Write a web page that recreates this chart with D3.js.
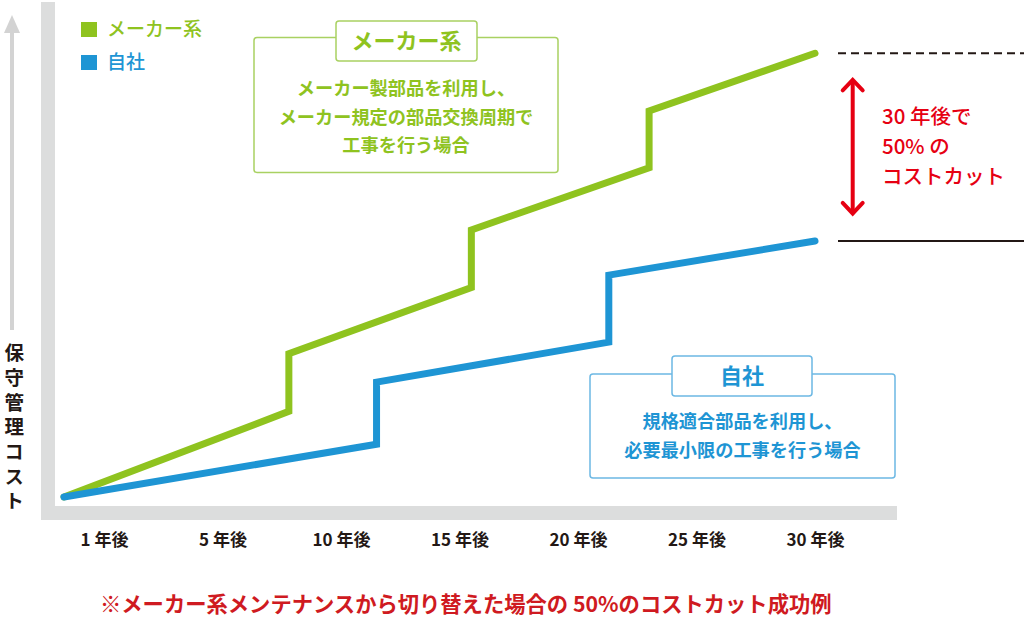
<!DOCTYPE html>
<html><head><meta charset="utf-8">
<script src="https://cdn.jsdelivr.net/npm/d3@7/dist/d3.min.js"></script>
<style>
html,body{margin:0;padding:0;background:#fff;}
svg{display:block;font-family:"Noto Sans CJK JP","Noto Sans",sans-serif;}
</style></head><body>
<svg id="c" width="1024" height="633"></svg>
<script>
// ---- data ----
const xTickYears = [1, 5, 10, 15, 20, 25, 30];
const xTickLabels = ["1 年後", "5 年後", "10 年後", "15 年後", "20 年後", "25 年後", "30 年後"];
const makerYears = [0, 7.8, 7.8, 15.5, 15.5, 23, 23, 30];
const makerCost  = [0, 19.3, 32.3, 47.2, 60.2, 74.2, 87.0, 100];
const selfYears  = [0, 11.5, 11.5, 21.3, 21.3, 30];
const selfCost   = [0, 11.9, 25.9, 34.9, 50.0, 57.7];
const seriesNames = ["メーカー系", "自社"];
const makerNote = ["メーカー製部品を利用し、", "メーカー規定の部品交換周期で", "工事を行う場合"];
const selfNote = ["規格適合部品を利用し、", "必要最小限の工事を行う場合"];
const cutNote = ["30 年後で", "50% の", "コストカット"];
const yAxisTitle = "保守管理コスト";
const footNote = "※メーカー系メンテナンスから切り替えた場合の 50%のコストカット成功例";

const GREEN = "#8fc31f", BLUE = "#1e95d4", RED = "#e60012", GRAY = "#dcdddd", DARK = "#231815";
const svg = d3.select("#c");

// ---- scales ----
const tickPos = xTickYears.map((d, i) => 104 + i * 118.5);
const x = d3.scaleLinear().domain([0, ...xTickYears]).range([64, ...tickPos]);
const y = d3.scaleLinear().domain([0, 100]).range([497, 53.3]);

// ---- frame ----
svg.append("rect").attr("x", 41).attr("y", 2).attr("width", 14).attr("height", 518).attr("fill", GRAY);
svg.append("rect").attr("x", 41).attr("y", 506).attr("width", 856).attr("height", 14).attr("fill", GRAY);

// y axis arrow + vertical title
svg.append("rect").attr("x", 10).attr("y", 30).attr("width", 4).attr("height", 300).attr("fill", "#d3d3d3");
svg.append("path").attr("d", "M12,15 L20,33 L4,33 Z").attr("fill", "#d3d3d3");
svg.append("text").attr("x", 14.2).attr("y", 343)
  .style("writing-mode", "vertical-rl").style("text-orientation", "upright")
  .attr("font-size", 19.5).attr("font-weight", 700).attr("fill", DARK)
  .attr("letter-spacing", 5.2)
  .text(yAxisTitle);

// x axis labels
const ax = svg.append("g").attr("transform", "translate(0,540)")
  .call(d3.axisBottom(x).tickValues(xTickYears).tickSize(0).tickPadding(0)
    .tickFormat((d, i) => xTickLabels[i]));
ax.select(".domain").remove();
ax.selectAll("text").attr("y", 0).attr("dy", "0.36em")
  .attr("font-family", "'Noto Sans CJK JP',sans-serif").attr("font-size", 17)
  .attr("font-weight", 700).attr("fill", DARK);

// ---- lines ----
const line = d3.line().x(d => x(d[0])).y(d => y(d[1]));
const series = [
  {pts: d3.zip(makerYears, makerCost), color: GREEN},
  {pts: d3.zip(selfYears, selfCost), color: BLUE}
];
svg.selectAll("path.series").data(series).join("path").attr("class", "series")
  .attr("d", d => line(d.pts)).attr("fill", "none").attr("stroke", d => d.color)
  .attr("stroke-width", 7).attr("stroke-linecap", "round").attr("stroke-linejoin", "miter");

// ---- reference lines at 30 years ----
const yMakerEnd = y(makerCost[makerCost.length - 1]);
const ySelfEnd = y(selfCost[selfCost.length - 1]);
svg.append("line").attr("x1", 838).attr("x2", 1024).attr("y1", yMakerEnd).attr("y2", yMakerEnd)
  .attr("stroke", DARK).attr("stroke-width", 2).attr("stroke-dasharray", "8,5");
svg.append("line").attr("x1", 838).attr("x2", 1024).attr("y1", ySelfEnd).attr("y2", ySelfEnd)
  .attr("stroke", DARK).attr("stroke-width", 2);

// red double arrow
const arX = 852.7, arTop = yMakerEnd + 25, arBot = ySelfEnd - 26;
svg.append("line").attr("x1", arX).attr("x2", arX).attr("y1", arTop + 2).attr("y2", arBot - 2)
  .attr("stroke", RED).attr("stroke-width", 4);
svg.append("path").attr("d", `M${arX - 10},${arTop + 12} L${arX},${arTop + 1.5} L${arX + 10},${arTop + 12}`)
  .attr("fill", "none").attr("stroke", RED).attr("stroke-width", 4).attr("stroke-linecap", "round");
svg.append("path").attr("d", `M${arX - 10},${arBot - 12} L${arX},${arBot - 1.5} L${arX + 10},${arBot - 12}`)
  .attr("fill", "none").attr("stroke", RED).attr("stroke-width", 4).attr("stroke-linecap", "round");
svg.append("g").selectAll("text").data(cutNote).join("text")
  .attr("x", 882).attr("y", (d, i) => 117 + i * 30).attr("dy", "0.36em")
  .attr("font-size", 20.5).attr("font-weight", 500).attr("fill", RED).text(d => d);

// ---- legend ----
const leg = svg.append("g");
[GREEN, BLUE].forEach((c, i) => {
  leg.append("rect").attr("x", 81).attr("y", 22 + i * 33).attr("width", 16).attr("height", 15).attr("fill", c);
  leg.append("text").attr("x", 107).attr("y", 29.5 + i * 33).attr("dy", "0.36em")
    .attr("font-size", 19).attr("font-weight", 500).attr("fill", c).text(seriesNames[i]);
});

// ---- callout boxes ----
function callout(bx, by, bw, bh, tx, ty, tw, th, color, fill, title, lines, lineY0) {
  const g = svg.append("g");
  g.append("rect").attr("x", bx).attr("y", by).attr("width", bw).attr("height", bh)
    .attr("rx", 3).attr("fill", "#fff").attr("stroke", color).attr("stroke-width", 1.5);
  g.append("rect").attr("x", tx).attr("y", ty).attr("width", tw).attr("height", th)
    .attr("rx", 3).attr("fill", "#fff").attr("stroke", color).attr("stroke-width", 1.5);
  g.append("text").attr("x", tx + tw / 2).attr("y", ty + th / 2).attr("dy", "0.36em")
    .attr("text-anchor", "middle").attr("font-size", 22).attr("font-weight", 700)
    .attr("fill", fill).text(title);
  g.selectAll("text.l").data(lines).join("text").attr("class", "l")
    .attr("x", bx + bw / 2).attr("y", (d, i) => lineY0 + i * 28.5).attr("dy", "0.36em")
    .attr("text-anchor", "middle").attr("font-size", 18.2).attr("font-weight", 700)
    .attr("fill", fill).text(d => d);
}
callout(254, 37.5, 304, 135, 336, 21, 141, 40, "#a9d162", GREEN, seriesNames[0], makerNote, 88.5);
callout(590, 374, 305, 104, 672, 356, 140, 40, "#6cb8e4", BLUE, seriesNames[1], selfNote, 421.5);

// ---- footnote ----
svg.append("text").attr("x", 100).attr("y", 604).attr("dy", "0.36em")
  .attr("font-size", 21.3).attr("font-weight", 700).attr("fill", "#cf1a21").text(footNote);
</script>
</body></html>
